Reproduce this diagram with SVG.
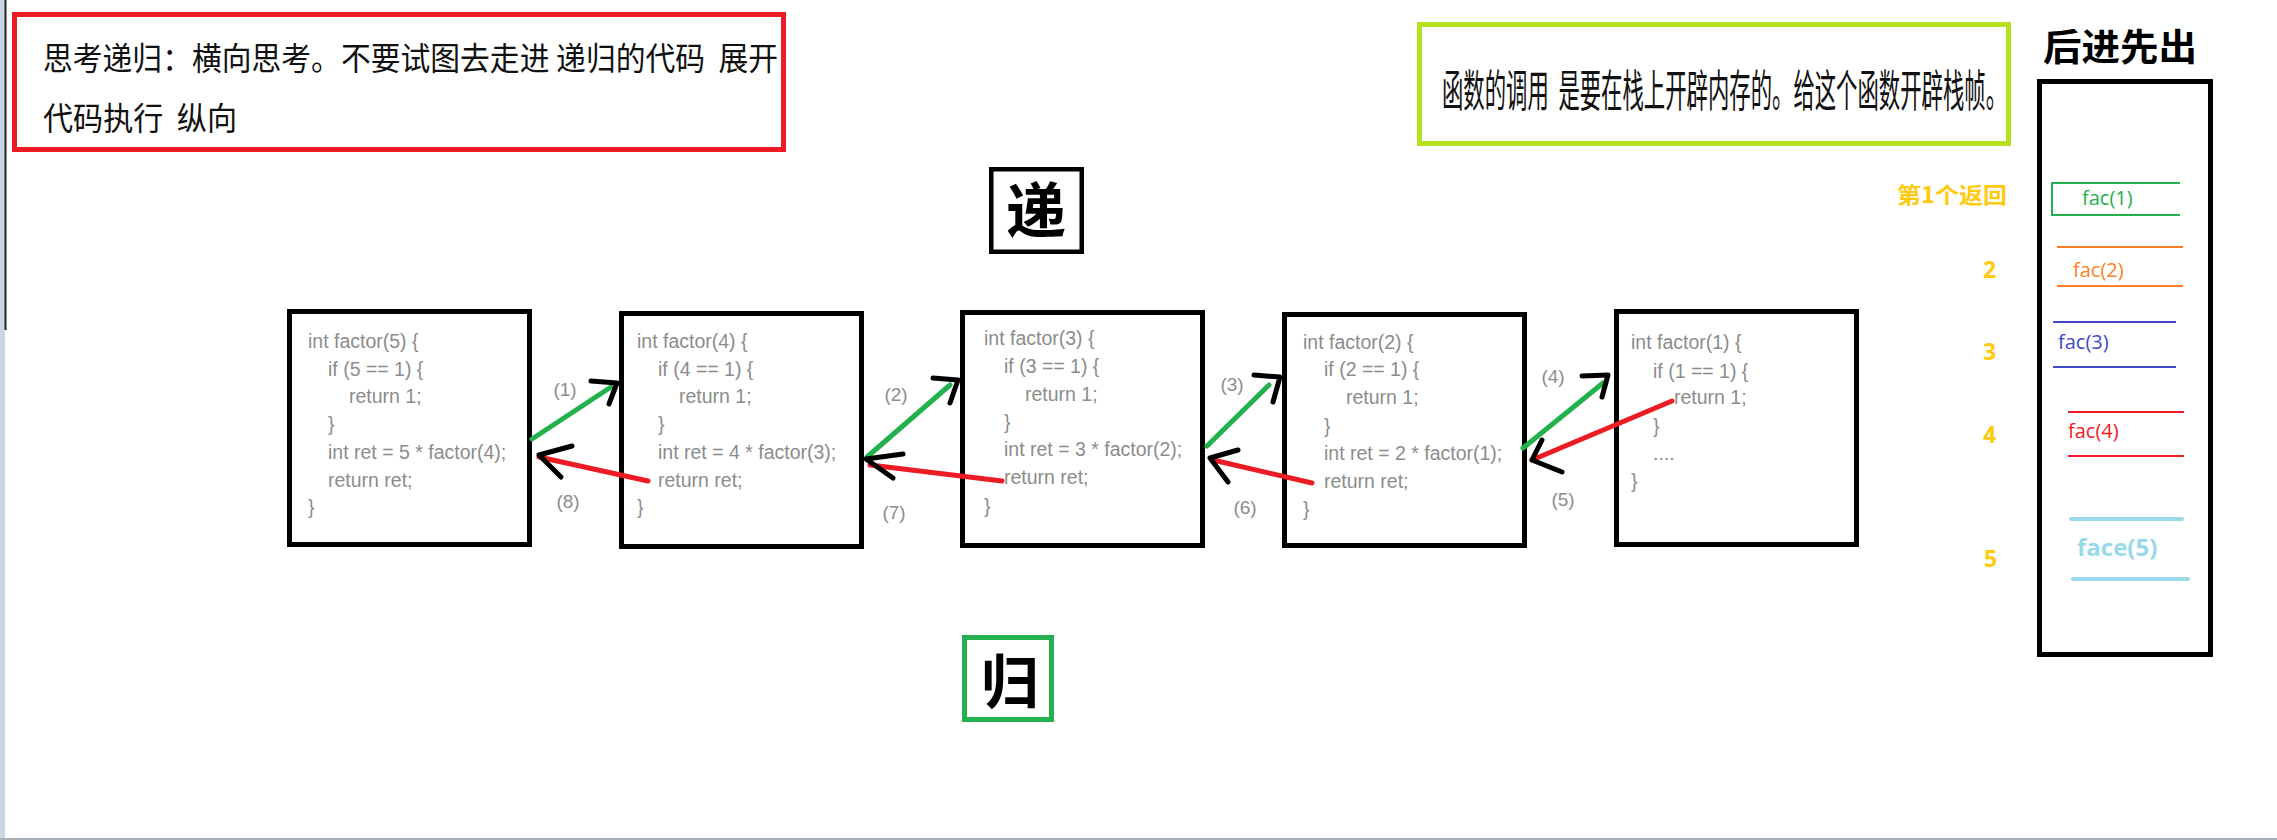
<svg xmlns="http://www.w3.org/2000/svg" width="2277" height="840" viewBox="0 0 2277 840">
<style>
.cjk{font-family:"Noto Sans CJK SC","Noto Sans",sans-serif;white-space:pre}
.code{font-family:"Liberation Sans",Arial,sans-serif;font-size:19.5px;fill:#8c8c8c}
.lbl{font-family:"Liberation Sans",Arial,sans-serif;font-size:19px;fill:#8c8c8c;text-anchor:middle}
.box{fill:#fff;stroke:#000;stroke-width:5}
.num{font-family:"Open Sans","Noto Sans",sans-serif;font-weight:bold;font-size:23px;fill:#ffc90e}
.fac{font-family:"Open Sans","Noto Sans",sans-serif;font-size:20px}
.g{stroke:#22b14c;stroke-width:5;stroke-linecap:round;fill:none}
.r{stroke:#ed1c24;stroke-width:5;stroke-linecap:round;fill:none}
.h{stroke:#000;stroke-width:5;stroke-linecap:round;stroke-linejoin:round;fill:none}
</style>
<rect x="0" y="0" width="2277" height="840" fill="#fff"/>
<rect x="0" y="0" width="5" height="840" fill="#ccd5e4"/>
<line x1="5.5" y1="0" x2="5.5" y2="330" stroke="#222" stroke-width="2"/>
<rect x="0" y="838" width="2277" height="2" fill="#a8b0bc"/>

<g id="note-left">
<rect x="14.5" y="14.5" width="769" height="135" fill="none" stroke="#ed1c24" stroke-width="5"/>
<text class="cjk" xml:space="preserve" x="43" y="70" font-size="32" fill="#111" textLength="735" lengthAdjust="spacingAndGlyphs">思考递归：横向思考。不要试图去走进 递归的代码  展开</text>
<text class="cjk" xml:space="preserve" x="43" y="130" font-size="32" fill="#111" textLength="194" lengthAdjust="spacingAndGlyphs">代码执行  纵向</text>
</g>

<g id="note-right">
<rect x="1419.5" y="24.5" width="589" height="119" fill="none" stroke="#b6e11f" stroke-width="5"/>
<text class="cjk" xml:space="preserve" transform="translate(1442,107) scale(0.485,1)" x="0" y="0" font-size="44" fill="#111" textLength="1165" lengthAdjust="spacingAndGlyphs">函数的调用  是要在栈上开辟内存的。给这个函数开辟栈帧。</text>
</g>

<g id="di">
<rect x="991.25" y="169.25" width="90.5" height="82.5" fill="none" stroke="#000" stroke-width="4.5"/>
<text class="cjk" x="1036" y="233" font-size="60" font-weight="bold" text-anchor="middle" fill="#000">递</text>
</g>
<g id="gui">
<rect x="964.5" y="637.5" width="87" height="82" fill="none" stroke="#22b14c" stroke-width="5"/>
<text class="cjk" x="1010" y="703" font-size="58" font-weight="bold" text-anchor="middle" fill="#000">归</text>
</g>

<g id="factor5">
<rect class="box" x="289.5" y="311.5" width="240" height="233"/>
<text class="code" x="308" y="348">int factor(5) {</text>
<text class="code" x="328" y="376">if (5 == 1) {</text>
<text class="code" x="349" y="403">return 1;</text>
<text class="code" x="328" y="431">}</text>
<text class="code" x="328" y="459">int ret = 5 * factor(4);</text>
<text class="code" x="328" y="487">return ret;</text>
<text class="code" x="308" y="514">}</text>
</g>
<g id="factor4">
<rect class="box" x="621.5" y="313.5" width="240" height="233"/>
<text class="code" x="637" y="348">int factor(4) {</text>
<text class="code" x="658" y="376">if (4 == 1) {</text>
<text class="code" x="679" y="403">return 1;</text>
<text class="code" x="658" y="431">}</text>
<text class="code" x="658" y="459">int ret = 4 * factor(3);</text>
<text class="code" x="658" y="487">return ret;</text>
<text class="code" x="637" y="514">}</text>
</g>
<g id="factor3">
<rect class="box" x="962.5" y="312.5" width="240" height="233"/>
<text class="code" x="984" y="345">int factor(3) {</text>
<text class="code" x="1004" y="373">if (3 == 1) {</text>
<text class="code" x="1025" y="401">return 1;</text>
<text class="code" x="1004" y="429">}</text>
<text class="code" x="1004" y="456">int ret = 3 * factor(2);</text>
<text class="code" x="1004" y="484">return ret;</text>
<text class="code" x="984" y="513">}</text>
</g>
<g id="factor2">
<rect class="box" x="1284.5" y="314.5" width="240" height="231"/>
<text class="code" x="1303" y="349">int factor(2) {</text>
<text class="code" x="1324" y="376">if (2 == 1) {</text>
<text class="code" x="1346" y="404">return 1;</text>
<text class="code" x="1324" y="433">}</text>
<text class="code" x="1324" y="460">int ret = 2 * factor(1);</text>
<text class="code" x="1324" y="488">return ret;</text>
<text class="code" x="1303" y="516">}</text>
</g>
<g id="factor1">
<rect class="box" x="1616.5" y="311.5" width="240" height="233"/>
<text class="code" x="1631" y="349">int factor(1) {</text>
<text class="code" x="1653" y="378">if (1 == 1) {</text>
<text class="code" x="1674" y="404">return 1;</text>
<text class="code" x="1653" y="433">}</text>
<text class="code" x="1653" y="460">....</text>
<text class="code" x="1631" y="488">}</text>
</g>

<g id="connectors">
<line class="g" x1="532" y1="439" x2="611" y2="387"/>
<polyline class="h" points="591,381 617,383 609,404"/>
<line class="r" x1="648" y1="481" x2="539" y2="457"/>
<polyline class="h" points="572,446 539,455 561,477"/>
<line class="g" x1="867" y1="457" x2="950" y2="385"/>
<polyline class="h" points="933,378 958,380 950,403"/>
<line class="r" x1="1002" y1="481" x2="870" y2="465"/>
<polyline class="h" points="903,454 866,459 893,478"/>
<line class="g" x1="1207" y1="446" x2="1269" y2="385"/>
<polyline class="h" points="1254,375 1280,377 1273,402"/>
<line class="r" x1="1312" y1="483" x2="1213" y2="460"/>
<polyline class="h" points="1238,450 1210,458 1228,482"/>
<line class="g" x1="1523" y1="448" x2="1603" y2="383"/>
<polyline class="h" points="1582,376 1608,375 1602,397"/>
<line class="r" x1="1672" y1="401" x2="1532" y2="460"/>
<polyline class="h" points="1542,440 1532,460 1562,472"/>
<text class="lbl" x="565" y="396">(1)</text>
<text class="lbl" x="568" y="508">(8)</text>
<text class="lbl" x="896" y="401">(2)</text>
<text class="lbl" x="894" y="519">(7)</text>
<text class="lbl" x="1232" y="391">(3)</text>
<text class="lbl" x="1245" y="514">(6)</text>
<text class="lbl" x="1553" y="383">(4)</text>
<text class="lbl" x="1563" y="506">(5)</text>
</g>

<g id="stack">
<text class="cjk" x="2043" y="61" font-size="37" font-weight="bold" fill="#000" textLength="154" lengthAdjust="spacingAndGlyphs">后进先出</text>
<rect x="2039.5" y="81.5" width="171" height="573" fill="none" stroke="#000" stroke-width="5"/>
<text class="cjk" x="1897" y="203" font-size="22" font-weight="bold" fill="#ffc90e" textLength="110" lengthAdjust="spacingAndGlyphs">第1个返回</text>
<path d="M2180 183 H2052 V215 H2180" fill="none" stroke="#22b14c" stroke-width="2"/>
<text class="fac" x="2082" y="205" fill="#22b14c">fac(1)</text>
<text class="num" x="1983" y="278">2</text>
<line x1="2057" y1="247" x2="2183" y2="247" stroke="#ff7f27" stroke-width="2"/>
<line x1="2057" y1="286" x2="2183" y2="286" stroke="#ff7f27" stroke-width="2"/>
<text class="fac" x="2073" y="277" fill="#ff7f27">fac(2)</text>
<text class="num" x="1983" y="360">3</text>
<line x1="2053" y1="322" x2="2176" y2="322" stroke="#3f48cc" stroke-width="2"/>
<line x1="2053" y1="367" x2="2176" y2="367" stroke="#3f48cc" stroke-width="2"/>
<text class="fac" x="2058" y="349" fill="#3f48cc">fac(3)</text>
<text class="num" x="1983" y="443">4</text>
<line x1="2068" y1="412" x2="2184" y2="412" stroke="#ed1c24" stroke-width="2"/>
<line x1="2068" y1="456" x2="2184" y2="456" stroke="#ed1c24" stroke-width="2"/>
<text class="fac" x="2068" y="438" fill="#ed1c24">fac(4)</text>
<text class="num" x="1984" y="567">5</text>
<line x1="2071" y1="519" x2="2182" y2="519" stroke="#99d9ea" stroke-width="4" stroke-linecap="round"/>
<line x1="2073" y1="579" x2="2188" y2="579" stroke="#99d9ea" stroke-width="4" stroke-linecap="round"/>
<text class="fac" x="2077" y="556" style="font-size:24px;font-weight:bold" fill="#99d9ea">face(5)</text>
</g>
</svg>
